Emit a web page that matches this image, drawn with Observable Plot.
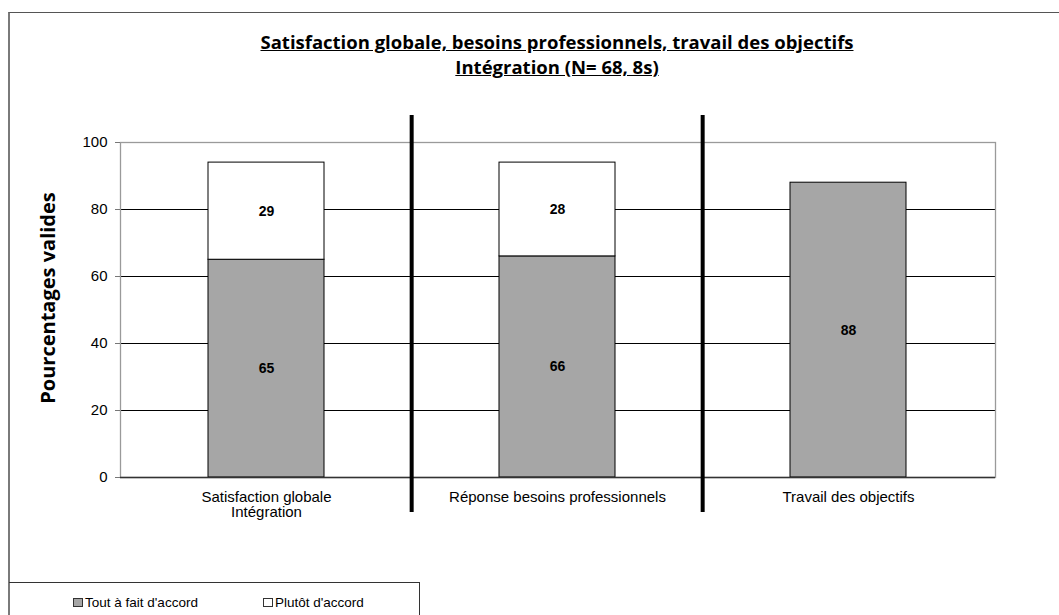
<!DOCTYPE html>
<html>
<head>
<meta charset="utf-8">
<script src="https://cdn.jsdelivr.net/npm/d3@7"></script>
<script src="https://cdn.jsdelivr.net/npm/@observablehq/plot@0.6"></script>
<style>
  html, body { margin: 0; padding: 0; background: #fff; }
  #chart { position: relative; width: 1059px; height: 615px; overflow: hidden;
           font-family: "Liberation Sans", Arial, sans-serif; color: #000; }
  #frame { position: absolute; left: 8px; top: 12px; width: 1200px; height: 800px;
           border-left: 2px solid #7a7a7a; border-top: 1px solid #555; box-sizing: border-box; }
  #title { position: absolute; left: 0; top: 29px; width: 1114px; text-align: center;
           font-family: "Open Sans", sans-serif; font-weight: bold; font-size: 18.5px;
           line-height: 25px; text-decoration: underline; }
  #plot { position: absolute; left: 0; top: 100px; }
  #legend { position: absolute; left: 9px; top: 582px; width: 411px; height: 60px;
            border-top: 1px solid #333; border-right: 1px solid #333; box-sizing: border-box; }
  .item { position: absolute; top: 12px; font-size: 13.5px; line-height: 16px; white-space: nowrap; }
  .swatch { display: inline-block; width: 8px; height: 7px; border: 1px solid #333;
            margin-right: 2px; vertical-align: 0; }
</style>
</head>
<body>
<div id="chart">
  <div id="frame"></div>
  <div id="title"></div>
  <div id="plot"></div>
  <div id="legend"></div>
</div>
<script>
// Categories (x axis), the two stacked series and the y ticks
const categories = ["Satisfaction globale\nIntégration", "Réponse besoins professionnels", "Travail des objectifs"];
const series = ["Tout à fait d'accord", "Plutôt d'accord"];
const toutAFait = [65, 66, 88];
const plutot = [29, 28, null];
const yTicks = [0, 20, 40, 60, 80, 100];
const seriesColors = ["#a6a6a6", "#ffffff"];
const titleLines = ["Satisfaction globale, besoins professionnels, travail des objectifs", "Intégration (N= 68, 8s)"];
const yLabel = "Pourcentages valides";

// Long-format rows for the stacked bars (bottom series first)
const rows = categories.flatMap((cat, i) => [
  {cat, serie: series[0], value: toutAFait[i]},
  {cat, serie: series[1], value: plutot[i]}
]).filter(d => d.value != null);

// Title
const title = document.getElementById("title");
titleLines.forEach(t => { const d = document.createElement("div"); d.textContent = t; title.appendChild(d); });

const W = 1059, H = 460;
const margin = {top: 42, right: 64, bottom: 83, left: 120};
const step = (W - margin.left - margin.right) / categories.length;

const chart = Plot.plot({
  width: W,
  height: H,
  marginTop: margin.top,
  marginRight: margin.right,
  marginBottom: margin.bottom,
  marginLeft: margin.left,
  style: {fontFamily: "Liberation Sans, Arial, sans-serif", fontSize: "15px", background: "transparent", overflow: "visible", color: "#000"},
  x: {type: "band", domain: categories, paddingInner: 0.6, paddingOuter: 0.3, align: 0.5, axis: null},
  y: {domain: [0, 100], axis: null},
  color: {domain: series, range: seriesColors},
  marks: [
    Plot.gridY(yTicks.filter(v => v > 0 && v < 100), {stroke: "#000", strokeOpacity: 1}),
    Plot.frame({stroke: "#9a9a9a", strokeWidth: 1.3}),
    Plot.barY(rows, Plot.stackY({x: "cat", y: "value", fill: "serie", stroke: "#000", strokeWidth: 1})),
    Plot.text(rows, Plot.stackY({x: "cat", y: "value", text: "value", fontWeight: "bold", fontSize: 14})),
    Plot.ruleY([0], {stroke: "#333", strokeWidth: 1.5}),
    Plot.axisY({ticks: yTicks, tickSize: 5, tickPadding: 8, label: null, fontSize: 15, stroke: "#777"}),
    Plot.axisX({tickSize: 0, tickPadding: 14, label: null, fontSize: 15, lineHeight: 1}),
    // vertical separators between the three groups
    Plot.ruleX(categories.slice(1), {dx: -step / 2, stroke: "#000", strokeWidth: 4, insetTop: -27, insetBottom: -35}),
    Plot.text([yLabel], {frameAnchor: "left", textAnchor: "middle", rotate: -90, dx: -72, dy: -12,
      fontFamily: "Open Sans, sans-serif", fontWeight: "bold", fontSize: 20})
  ]
});
document.getElementById("plot").appendChild(chart);

// Legend below the chart
const legend = document.getElementById("legend");
const itemLeft = [64, 254];
series.forEach((s, i) => {
  const it = document.createElement("div");
  it.className = "item";
  it.style.left = itemLeft[i] + "px";
  const sw = document.createElement("span");
  sw.className = "swatch";
  sw.style.background = seriesColors[i];
  it.appendChild(sw);
  it.appendChild(document.createTextNode(s));
  legend.appendChild(it);
});
</script>
</body>
</html>
